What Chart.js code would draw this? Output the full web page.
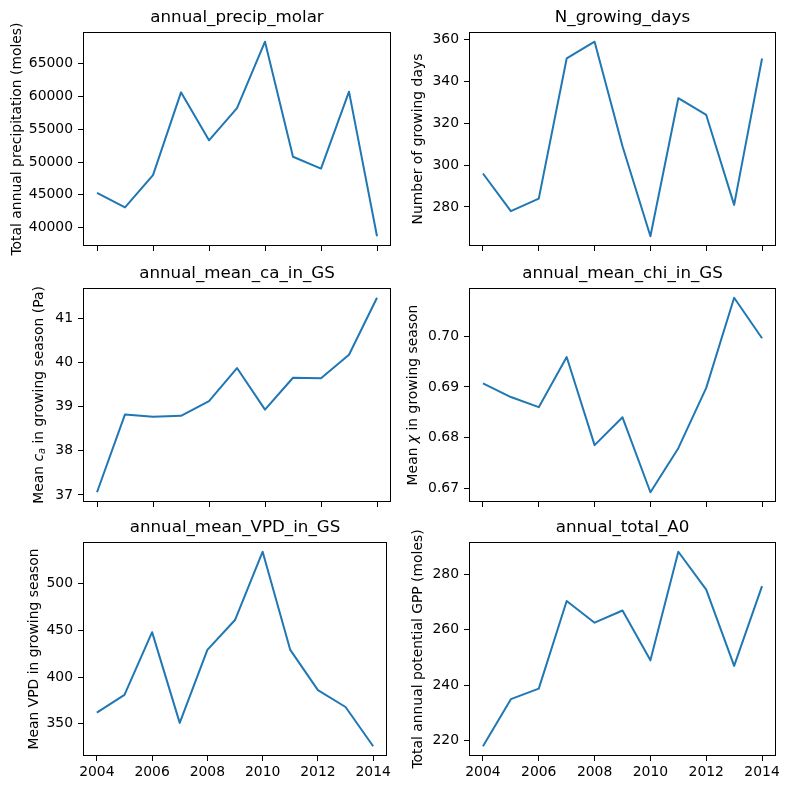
<!DOCTYPE html>
<html>
<head>
<meta charset="utf-8">
<script src="https://cdn.jsdelivr.net/npm/chart.js@4"></script>
<style>
body { margin: 0; background: #fff; }
#fig { position: relative; width: 788px; height: 790px; }
#fig canvas { position: absolute; }
</style>
</head>
<body>
<div id="fig"></div>
<script>
const years = [2004, 2005, 2006, 2007, 2008, 2009, 2010, 2011, 2012, 2013, 2014];
const xTicks = [2004, 2006, 2008, 2010, 2012, 2014];

// values
const precipMolar = [45300, 43100, 48000, 60600, 53300, 58200, 68300, 50800, 49000, 60700, 38700];
const growingDays = [296, 278, 284, 351, 359, 309, 266, 332, 324, 281, 351];
const meanCa = [37.06, 38.82, 38.77, 38.79, 39.12, 39.87, 38.93, 39.65, 39.64, 40.17, 41.46];
const meanChi = [0.6907, 0.6880, 0.6860, 0.6959, 0.6785, 0.6840, 0.6692, 0.6779, 0.6898, 0.7076, 0.6996];
const meanVpd = [362, 381, 448, 351, 429, 461, 534, 429, 386, 368, 326];
const totalA0 = [218, 235, 238.8, 270.4, 262.6, 267, 249, 288.2, 274.5, 247, 275.8];

const precipTicks = ["40000", "45000", "50000", "55000", "60000", "65000"];
const daysTicks = ["280", "300", "320", "340", "360"];
const caTicks = ["37", "38", "39", "40", "41"];
const chiTicks = ["0.67", "0.68", "0.69", "0.70"];
const vpdTicks = ["350", "400", "450", "500"];
const a0Ticks = ["220", "240", "260", "280"];

const panels = [
    { title: "annual_precip_molar", values: precipMolar, ticks: precipTicks, row: 0, col: 0, labelX: 17,
      ylabel: [{ t: "Total annual precipitation (moles)" }] },
    { title: "N_growing_days", values: growingDays, ticks: daysTicks, row: 0, col: 1, labelX: 24,
      ylabel: [{ t: "Number of growing days" }] },
    { title: "annual_mean_ca_in_GS", values: meanCa, ticks: caTicks, row: 1, col: 0, labelX: 39,
      ylabel: [{ t: "Mean " }, { t: "c", it: true }, { t: "a", it: true, sub: true }, { t: " in growing season (Pa)" }] },
    { title: "annual_mean_chi_in_GS", values: meanChi, ticks: chiTicks, row: 1, col: 1, labelX: 19,
      ylabel: [{ t: "Mean " }, { t: "\u03c7", it: true }, { t: " in growing season" }] },
    { title: "annual_mean_VPD_in_GS", values: meanVpd, ticks: vpdTicks, row: 2, col: 0, labelX: 34,
      ylabel: [{ t: "Mean VPD in growing season" }] },
    { title: "annual_total_A0", values: totalA0, ticks: a0Ticks, row: 2, col: 1, labelX: 24,
      ylabel: [{ t: "Total annual potential GPP (moles)" }] }
];

// canvas geometry for each row / column
const rows = [
    { top: 0, height: 262, padTop: 32, xHeight: 16 },
    { top: 262, height: 256, padTop: 26, xHeight: 16 },
    { top: 518, height: 272, padTop: 24, xHeight: 34 }
];
const cols = [
    { left: 0, width: 394, yWidth: 83, padRight: 3 },
    { left: 394, width: 394, yWidth: 75, padRight: 12 }
];

const FONT = "DejaVu Sans";

// box, title and y label drawn like matplotlib
const panelText = {
    id: "panelText",
    afterDraw(chart, args, opts) {
        const { ctx, chartArea: a } = chart;
        ctx.save();
        ctx.strokeStyle = "#000";
        ctx.lineWidth = 1;
        ctx.strokeRect(Math.round(a.left) + 0.5, Math.round(a.top) + 0.5,
            Math.round(a.right - a.left) - 1, Math.round(a.bottom - a.top) - 1);

        ctx.fillStyle = "#000";
        ctx.font = `16.7px "${FONT}"`;
        ctx.textAlign = "center";
        ctx.textBaseline = "alphabetic";
        ctx.fillText(opts.title, (a.left + a.right) / 2, a.top - 10);

        // y label runs, rotated
        const size = 13.9;
        const fontOf = r => `${r.it ? "italic " : ""}${r.sub ? size * 0.7 : size}px "${FONT}"`;
        let total = 0;
        opts.ylabel.forEach(r => { ctx.font = fontOf(r); total += ctx.measureText(r.t).width; });
        ctx.translate(opts.labelX, (a.top + a.bottom) / 2);
        ctx.rotate(-Math.PI / 2);
        ctx.textAlign = "left";
        ctx.textBaseline = "middle";
        let x = -total / 2;
        opts.ylabel.forEach(r => {
            ctx.font = fontOf(r);
            ctx.fillText(r.t, x, r.sub ? 3 : 0);
            x += ctx.measureText(r.t).width;
        });
        ctx.restore();
    }
};

const fig = document.getElementById("fig");

panels.forEach(p => {
    const row = rows[p.row], col = cols[p.col];
    const canvas = document.createElement("canvas");
    canvas.width = col.width;
    canvas.height = row.height;
    canvas.style.left = col.left + "px";
    canvas.style.top = row.top + "px";
    fig.appendChild(canvas);

    const lo = Math.min(...p.values), hi = Math.max(...p.values);
    const pad = (hi - lo) * 0.05;
    const tickVals = p.ticks.map(Number);
    const bottomRow = p.row === 2;

    new Chart(canvas, {
        type: "line",
        data: {
            datasets: [{
                data: years.map((x, i) => ({ x: x, y: p.values[i] })),
                borderColor: "#1f77b4",
                borderWidth: 2,
                pointRadius: 0,
                tension: 0,
                borderJoinStyle: "round",
                fill: false
            }]
        },
        options: {
            responsive: false,
            animation: false,
            devicePixelRatio: 1,
            layout: { autoPadding: false, padding: { top: row.padTop, right: col.padRight, bottom: 0, left: 0 } },
            plugins: {
                legend: { display: false },
                tooltip: { enabled: false },
                panelText: { title: p.title, ylabel: p.ylabel, labelX: p.labelX }
            },
            scales: {
                x: {
                    type: "linear",
                    min: 2003.5,
                    max: 2014.5,
                    afterBuildTicks: s => { s.ticks = xTicks.map(v => ({ value: v })); },
                    afterFit: s => { s.height = row.xHeight; },
                    grid: { drawOnChartArea: false, drawTicks: true, tickLength: 5, color: "#000", tickWidth: 1 },
                    border: { display: false },
                    ticks: {
                        display: bottomRow,
                        autoSkip: false,
                        maxRotation: 0,
                        padding: 3,
                        color: "#000",
                        font: { family: FONT, size: 13.9 },
                        callback: v => String(v)
                    }
                },
                y: {
                    type: "linear",
                    min: lo - pad,
                    max: hi + pad,
                    afterBuildTicks: s => { s.ticks = tickVals.map(v => ({ value: v })); },
                    afterFit: s => { s.width = col.yWidth; },
                    grid: { drawOnChartArea: false, drawTicks: true, tickLength: 5, color: "#000", tickWidth: 1 },
                    border: { display: false },
                    ticks: {
                        autoSkip: false,
                        padding: 5,
                        color: "#000",
                        font: { family: FONT, size: 13.9 },
                        callback: (v, i) => p.ticks[i]
                    }
                }
            }
        },
        plugins: [panelText]
    });
});
</script>
</body>
</html>
